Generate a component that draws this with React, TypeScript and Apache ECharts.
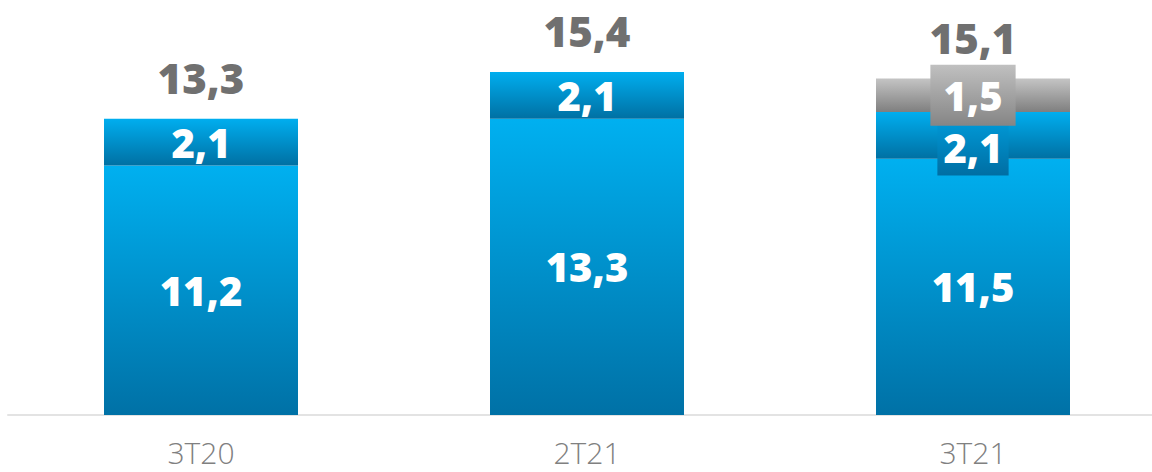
import React, { useEffect, useRef } from "react";
import * as echarts from "echarts";

const categories = ["3T20", "2T21", "3T21"];
const baseValues = [11.2, 13.3, 11.5];
const midValues = [2.1, 2.1, 2.1];
const otherValues: (number | null)[] = [null, null, 1.5];
const totals = [13.3, 15.4, 15.1];

const fmt = (v: number) => v.toFixed(1).replace(".", ",");
const FONT = "'Open Sans', 'Noto Sans', sans-serif";

const vGrad = (top: string, bottom: string) =>
  new echarts.graphic.LinearGradient(0, 0, 0, 1, [
    { offset: 0, color: top },
    { offset: 1, color: bottom },
  ]);

export default function App() {
  const ref = useRef<HTMLDivElement>(null);

  useEffect(() => {
    if (!ref.current) return;
    const chart = echarts.init(ref.current, undefined, { renderer: "svg" });

    const innerLabel = {
      show: true,
      position: "inside" as const,
      color: "#ffffff",
      fontFamily: FONT,
      fontWeight: 800,
      fontSize: 40,
      formatter: (p: any) => fmt(p.value),
    };

    chart.setOption({
      animation: false,
      grid: { left: 8, width: 1158, top: 14, height: 401 },
      xAxis: {
        type: "category",
        data: categories,
        axisLine: { show: true, lineStyle: { color: "#e3e3e3", width: 2 } },
        axisTick: { show: false },
        axisLabel: {
          color: "#808080",
          fontFamily: FONT,
          fontWeight: 300,
          fontSize: 30,
          lineHeight: 30,
          margin: 22,
        },
      },
      yAxis: {
        type: "value",
        min: 0,
        max: 18,
        show: false,
        splitLine: { show: false },
      },
      series: [
        {
          type: "bar",
          stack: "s",
          barWidth: 194,
          silent: true,
          data: baseValues,
          itemStyle: { color: vGrad("#00b0f0", "#0071a6") },
          label: innerLabel,
        },
        {
          type: "bar",
          stack: "s",
          barWidth: 194,
          silent: true,
          data: midValues.map((v, i) =>
            i === 2
              ? {
                  value: v,
                  label: {
                    offset: [0, 12],
                    backgroundColor: vGrad("#009ad8", "#006ea3"),
                    padding: [8, 6, 8, 6],
                    lineHeight: 40,
                  },
                }
              : v
          ),
          itemStyle: { color: vGrad("#00aeef", "#0070a3") },
          label: innerLabel,
        },
        {
          type: "bar",
          stack: "s",
          barWidth: 194,
          silent: true,
          data: otherValues.map((v) =>
            v == null
              ? null
              : {
                  value: v,
                  label: {
                    backgroundColor: vGrad("#c0c0c0", "#858585"),
                    padding: [10, 13, 10, 13],
                    lineHeight: 41,
                  },
                }
          ),
          itemStyle: { color: vGrad("#c4c4c4", "#7f7f7f") },
          label: innerLabel,
        },
        {
          type: "bar",
          stack: "s",
          barWidth: 194,
          silent: true,
          data: totals.map(() => 0),
          itemStyle: { color: "transparent" },
          label: {
            show: true,
            position: "top",
            distance: 20,
            color: "#707070",
            fontFamily: FONT,
            fontWeight: 800,
            fontSize: 42,
            formatter: (p: any) => fmt(totals[p.dataIndex]),
          },
        },
      ],
    });

    return () => chart.dispose();
  }, []);

  return (
    <div
      style={{
        position: "absolute",
        left: 0,
        top: 0,
        width: 1152,
        height: 472,
        overflow: "hidden",
      }}
    >
      <div ref={ref} style={{ width: 1170, height: 472 }} />
    </div>
  );
}
